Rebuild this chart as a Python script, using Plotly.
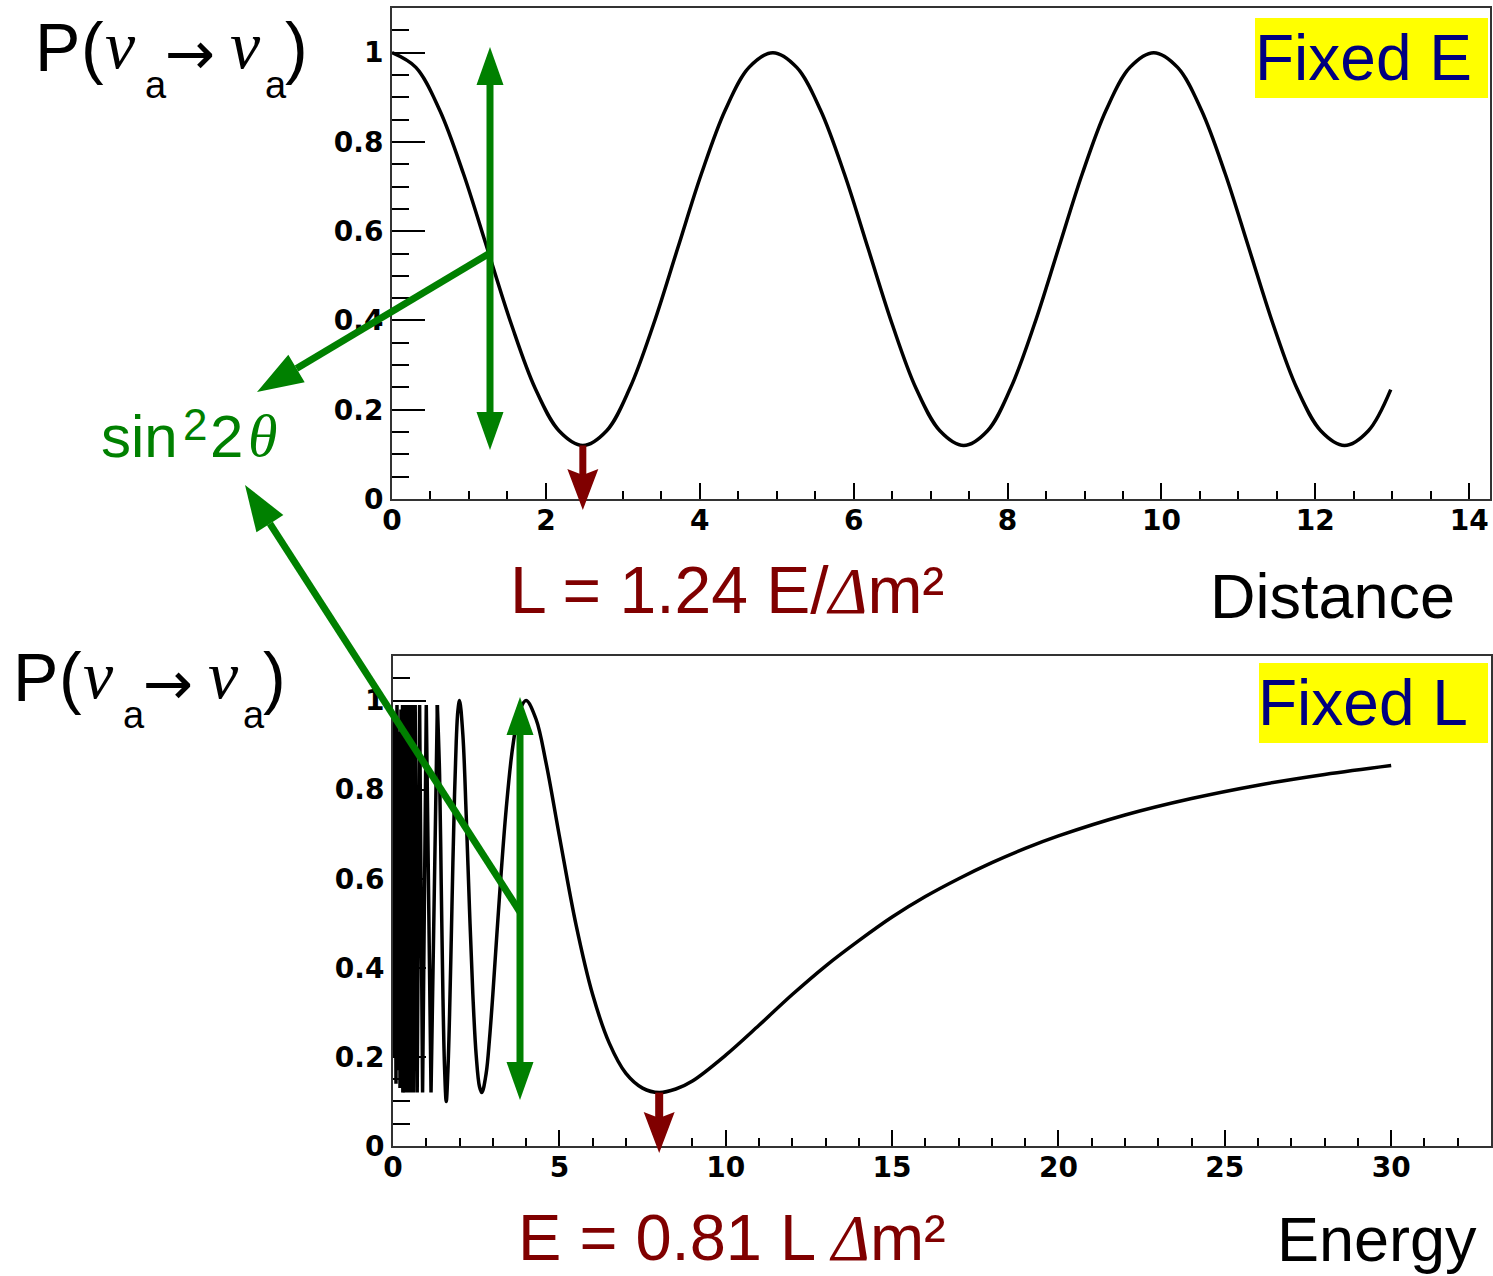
import plotly.graph_objects as go

W, H = 1493, 1276

# ---------------- data ----------------
# Survival probability versus distance (energy held fixed)
distance = [0, 0.31, 0.62, 0.93, 1.24, 1.55, 1.86, 2.17, 2.48, 2.79, 3.09, 3.40,
            3.71, 4.02, 4.33, 4.64, 4.95, 5.26, 5.57, 5.88, 6.19, 6.50, 6.81,
            7.12, 7.43, 7.74, 8.04, 8.35, 8.66, 8.97, 9.28, 9.59, 9.90, 10.21,
            10.52, 10.83, 11.14, 11.45, 11.76, 12.07, 12.38, 12.69, 12.98]
p_distance = [1.0, 0.967, 0.871, 0.728, 0.56, 0.392, 0.248, 0.153, 0.12, 0.153,
              0.248, 0.392, 0.56, 0.728, 0.871, 0.967, 1.0, 0.967, 0.871, 0.728,
              0.56, 0.392, 0.248, 0.153, 0.12, 0.153, 0.248, 0.392, 0.56, 0.728,
              0.871, 0.967, 1.0, 0.967, 0.871, 0.728, 0.56, 0.392, 0.248, 0.153,
              0.12, 0.153, 0.245]

# Survival probability versus energy (baseline held fixed):
# rapid low-energy oscillations ...
energy_fast = [0.00, 0.03, 0.06, 0.09, 0.12, 0.15, 0.18, 0.21, 0.24, 0.27, 0.286,
               0.296, 0.308, 0.32, 0.333, 0.348, 0.364, 0.381, 0.40, 0.421, 0.444,
               0.471, 0.50, 0.533, 0.571, 0.615, 0.667, 0.727, 0.80, 0.889, 1.0,
               1.143, 1.333]
p_energy_fast = [0.97, 0.20, 0.95, 0.14, 0.99, 0.17, 0.93, 0.13, 0.98, 0.15, 0.99,
                 0.12, 0.99, 0.13, 0.99, 0.12, 0.99, 0.12, 0.99, 0.12, 0.99,
                 0.12, 0.99, 0.12, 0.99, 0.12, 0.99, 0.12, 0.99, 0.12, 0.99,
                 0.12, 0.99]
# ... and the smooth part above that
energy = [1.333, 1.40, 1.45, 1.50, 1.55, 1.60, 1.65, 1.70, 1.75, 1.80, 1.85, 1.90,
          1.95, 2.0, 2.1, 2.2, 2.3, 2.4, 2.5, 2.6, 2.67, 2.8, 2.9, 3.0, 3.2, 3.4,
          3.6, 3.8, 4.0, 4.3, 4.6, 5.0, 5.5, 6.0, 6.5, 7.0, 7.5, 8.0, 8.5, 9.0,
          10, 11, 12, 13, 14, 15, 16, 17, 18, 19, 20, 22, 24, 26, 28, 30]
p_energy = [0.99, 0.834, 0.585, 0.34, 0.175, 0.10, 0.169, 0.295, 0.461, 0.636, 0.79,
            0.907, 0.977, 1.0, 0.923, 0.743, 0.530, 0.34, 0.204, 0.133, 0.12, 0.163,
            0.24, 0.34, 0.56, 0.755, 0.897, 0.976, 1.0, 0.958, 0.86, 0.696, 0.497,
            0.34, 0.231, 0.163, 0.130, 0.12, 0.128, 0.146, 0.204, 0.271, 0.34,
            0.404, 0.461, 0.514, 0.56, 0.600, 0.636, 0.668, 0.696, 0.743, 0.78,
            0.81, 0.834, 0.854]

# first oscillation minimum in each view
l_min, p_min_top = 2.48, 0.12
e_min, p_min_bot = 8.0, 0.12

# axis ticks
dist_ticks = [0, 2, 4, 6, 8, 10, 12, 14]
energy_ticks = [0, 5, 10, 15, 20, 25, 30]
prob_ticks = [0, 0.2, 0.4, 0.6, 0.8, 1]
prob_labels = ["0", "0.2", "0.4", "0.6", "0.8", "1"]

# ---------------- panel geometry (pixels) ----------------
TOP = dict(x0=392, x1=1490, y0=8, y1=499, xr=(0, 14.27))
BOT = dict(x0=393, x1=1491, y0=656, y1=1146, xr=(0, 33.0))
YR = (0, 1.1)


def paper(xp, yp):
    return xp / W, 1 - yp / H


def data_px(panel, x, y):
    fx = (x - panel["xr"][0]) / (panel["xr"][1] - panel["xr"][0])
    fy = (y - YR[0]) / (YR[1] - YR[0])
    return (panel["x0"] + fx * (panel["x1"] - panel["x0"]),
            panel["y1"] - fy * (panel["y1"] - panel["y0"]))


fig = go.Figure()

fig.add_trace(go.Scatter(x=distance, y=p_distance, mode="lines",
                         line=dict(color="black", width=3.5, shape="spline"),
                         xaxis="x", yaxis="y", hoverinfo="skip"))
fig.add_trace(go.Scatter(x=energy_fast, y=p_energy_fast, mode="lines",
                         line=dict(color="black", width=3.5),
                         xaxis="x2", yaxis="y2", hoverinfo="skip"))
fig.add_trace(go.Scatter(x=energy, y=p_energy, mode="lines",
                         line=dict(color="black", width=3.5, shape="spline"),
                         xaxis="x2", yaxis="y2", hoverinfo="skip"))

tickfont = dict(family="DejaVu Sans", size=28, color="black", weight="bold")
common = dict(showline=True, linecolor="#333333", linewidth=2, mirror=True,
              showgrid=False, zeroline=False, ticks="inside", tickcolor="black",
              tickwidth=2, tickfont=tickfont, automargin=False)
xcommon = dict(common, ticklen=16, ticklabelstandoff=-5)
ycommon = dict(common, ticklen=33, ticklabelstandoff=1, tickmode="array",
               tickvals=prob_ticks, ticktext=prob_labels, range=list(YR),
               minor=dict(tickmode="linear", tick0=0, dtick=0.05, ticklen=17,
                          ticks="inside", tickcolor="black", tickwidth=2))

fig.update_layout(
    width=W, height=H, autosize=False,
    margin=dict(l=0, r=0, t=0, b=0, pad=0, autoexpand=False),
    paper_bgcolor="white", plot_bgcolor="white", showlegend=False,
    xaxis=dict(xcommon, domain=[TOP["x0"] / W, TOP["x1"] / W], range=list(TOP["xr"]),
               anchor="y", tickmode="array", tickvals=dist_ticks,
               ticktext=[str(t) for t in dist_ticks],
               minor=dict(tickmode="linear", tick0=0, dtick=0.5, ticklen=8,
                          ticks="inside", tickcolor="black", tickwidth=2)),
    yaxis=dict(ycommon, domain=[1 - TOP["y1"] / H, 1 - TOP["y0"] / H], anchor="x"),
    xaxis2=dict(xcommon, domain=[BOT["x0"] / W, BOT["x1"] / W], range=list(BOT["xr"]),
                anchor="y2", tickmode="array", tickvals=energy_ticks,
                ticktext=[str(t) for t in energy_ticks],
                minor=dict(tickmode="linear", tick0=0, dtick=1, ticklen=8,
                           ticks="inside", tickcolor="black", tickwidth=2)),
    yaxis2=dict(ycommon, domain=[1 - BOT["y1"] / H, 1 - BOT["y0"] / H], anchor="x2"),
)

GREEN = "#008000"
DARKRED = "#800000"
NAVY = "#000080"

shapes = []


def path_of(points):
    parts = []
    for i, (xp, yp) in enumerate(points):
        px, py = paper(xp, yp)
        parts.append(("M" if i == 0 else "L") + f"{px:.6f},{py:.6f}")
    return " ".join(parts) + " Z"


def add_head(tip, tail, length, half_w, notch, color):
    dx, dy = tip[0] - tail[0], tip[1] - tail[1]
    n = (dx * dx + dy * dy) ** 0.5
    ux, uy = dx / n, dy / n
    bx, by = tip[0] - ux * length, tip[1] - uy * length
    px_, py_ = -uy, ux
    c1 = (bx + px_ * half_w, by + py_ * half_w)
    c2 = (bx - px_ * half_w, by - py_ * half_w)
    nb = (bx + ux * notch, by + uy * notch)
    shapes.append(dict(type="path", xref="paper", yref="paper",
                       path=path_of([tip, c1, nb, c2]),
                       fillcolor=color, line=dict(width=0), layer="above"))
    return nb


def add_shaft(a, b, width, color):
    ax, ay = paper(*a)
    bx, by = paper(*b)
    shapes.append(dict(type="line", xref="paper", yref="paper", x0=ax, y0=ay,
                       x1=bx, y1=by, line=dict(color=color, width=width),
                       layer="above"))


def arrow(tail, tip, length, half_w, width, color, notch=0):
    base = add_head(tip, tail, length, half_w, notch, color)
    add_shaft(tail, base, width, color)


def double_arrow(end_a, end_b, length, half_w, width, color):
    ba = add_head(end_a, end_b, length, half_w, 0, color)
    bb = add_head(end_b, end_a, length, half_w, 0, color)
    add_shaft(ba, bb, width, color)


# sin^2(2theta) amplitude markers
double_arrow((490, 47), (490, 450), 38, 13.5, 7, GREEN)
arrow((490, 253), (257, 392), 46, 16, 7, GREEN)
double_arrow((520, 697), (520, 1100), 38, 13.5, 7, GREEN)
arrow((520, 912), (245, 485), 46, 16, 7, GREEN)

# first-minimum markers, placed at the data minimum
tx, ty = data_px(TOP, l_min, p_min_top)
arrow((tx, ty), (tx, TOP["y1"] + 11), 41, 15.5, 7, DARKRED, notch=6)
bx_, by_ = data_px(BOT, e_min, p_min_bot)
arrow((bx_, by_), (bx_, BOT["y1"] + 7), 41, 15.5, 8, DARKRED, notch=6)

# yellow boxes behind the panel tags
for (x0, y0, x1, y1) in [(1255, 18, 1488, 98), (1259, 663, 1488, 743)]:
    a0, b0 = paper(x0, y1)
    a1, b1 = paper(x1, y0)
    shapes.append(dict(type="rect", xref="paper", yref="paper", x0=a0, y0=b0,
                       x1=a1, y1=b1, fillcolor="#ffff00", line=dict(width=0),
                       layer="above"))

fig.update_layout(shapes=shapes)

SANS = "Liberation Sans, Arial, sans-serif"
SERIF = "Liberation Serif, Times New Roman, serif"


def label(text, left, baseline, size, color="black", family=SANS, style="normal"):
    xp, yp = paper(left, baseline - 0.345 * size)
    fig.add_annotation(x=xp, y=yp, xref="paper", yref="paper", xanchor="left",
                       yanchor="middle", text=text, showarrow=False,
                       borderpad=0, borderwidth=0,
                       font=dict(family=family, size=size, color=color, style=style))


def prob_title(dx, dy):
    label("P", 35 + dx, 70 + dy, 68)
    label("(", 81 + dx, 70 + dy, 68)
    label("ν", 105 + dx, 68 + dy, 68, family=SERIF, style="italic")
    label("a", 145 + dx, 98 + dy, 38)
    label("→", 165 + dx, 74 + dy, 60, family="DejaVu Sans")
    label("ν", 230 + dx, 68 + dy, 68, family=SERIF, style="italic")
    label("a", 265 + dx, 98 + dy, 38)
    label(")", 285 + dx, 70 + dy, 68)


prob_title(0, 0)
prob_title(-22, 630)

# sin^2 2theta
label("sin", 101, 457, 60, GREEN)
label("2", 183, 440, 44, GREEN)
label("2", 210, 457, 60, GREEN)
label("θ", 248, 457, 60, GREEN, family=SERIF, style="italic")

label("Fixed E", 1255, 80, 64, NAVY)
label("Fixed L", 1258, 725, 64, NAVY)
label("Distance", 1210, 618, 63)
label("Energy", 1277, 1261, 63)

DELTA = "<i><span style='font-family:Liberation Serif'>Δ</span></i>"
label(f"L = 1.24 E/{DELTA}m²", 510, 613, 66, DARKRED)
label(f"E = 0.81 L {DELTA}m²", 518, 1260, 65, DARKRED)

fig.write_html("out.html")
